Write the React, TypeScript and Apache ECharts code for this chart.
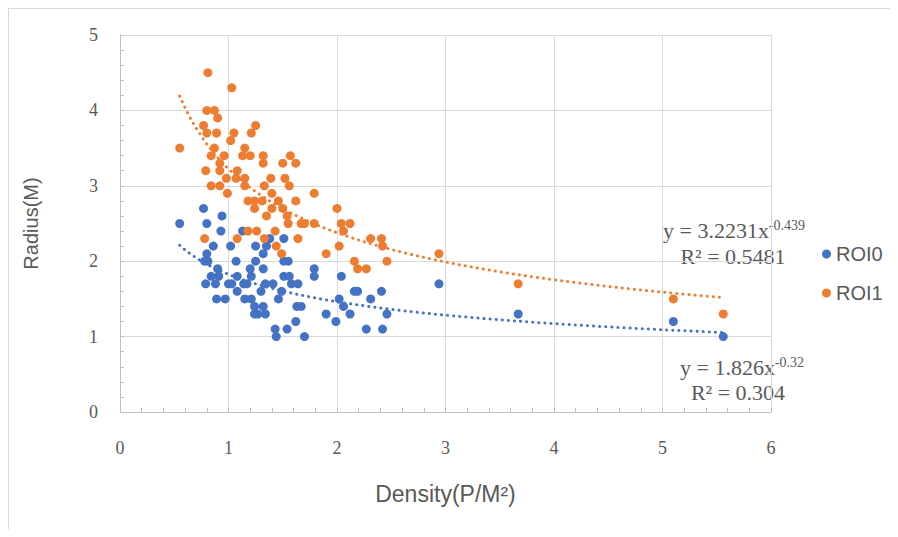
import React, { useEffect, useRef } from "react";
import * as echarts from "echarts";

// ROI0 (blue) points: [density, radius]
const roi0Points: [number, number][] = [
  [0.55, 2.5], [0.77, 2.7], [0.94, 2.6], [0.8, 2.5], [0.93, 2.4], [1.13, 2.4], [0.86, 2.2], [1.02, 2.2],
  [0.8, 2.1], [0.78, 2.0], [0.81, 2.0], [1.07, 2.0], [0.9, 1.9], [0.84, 1.8], [0.91, 1.8], [1.08, 1.8],
  [1.2, 1.9], [1.21, 1.8], [0.79, 1.7], [0.88, 1.7], [1.0, 1.7], [1.03, 1.7], [1.14, 1.7], [1.17, 1.7],
  [1.08, 1.6], [0.89, 1.5], [0.97, 1.5], [1.15, 1.5], [1.21, 1.5], [1.24, 1.4], [1.24, 1.3],
  [1.38, 2.3], [1.51, 2.3], [1.25, 2.2], [1.35, 2.2], [1.32, 2.1], [1.25, 2.0], [1.51, 2.0], [1.55, 2.0],
  [1.32, 1.9], [1.79, 1.9], [1.51, 1.8], [1.56, 1.8], [1.79, 1.8], [1.34, 1.7], [1.41, 1.7], [1.58, 1.7],
  [1.64, 1.7], [1.3, 1.6], [1.49, 1.6], [1.46, 1.5], [1.32, 1.4], [1.63, 1.4], [1.67, 1.4], [1.27, 1.3],
  [1.34, 1.3], [1.9, 1.3], [1.62, 1.2], [1.99, 1.2], [1.43, 1.1], [1.54, 1.1], [1.44, 1.0], [1.7, 1.0],
  [2.04, 1.8], [2.94, 1.7], [2.16, 1.6], [2.19, 1.6], [2.41, 1.6], [2.02, 1.5], [2.31, 1.5], [2.06, 1.4],
  [2.12, 1.3], [2.46, 1.3], [2.27, 1.1], [2.42, 1.1], [3.67, 1.3], [5.1, 1.2], [5.56, 1.0],
];

// ROI1 (orange) points: [density, radius]
const roi1Points: [number, number][] = [
  [0.55, 3.5], [0.81, 4.5], [1.03, 4.3], [0.8, 4.0], [0.87, 4.0], [0.9, 3.9], [0.77, 3.8], [0.8, 3.7],
  [0.89, 3.7], [1.05, 3.7], [1.02, 3.6], [1.21, 3.7], [1.25, 3.8], [0.87, 3.5], [1.15, 3.5], [0.84, 3.4],
  [0.96, 3.4], [1.13, 3.4], [1.2, 3.4], [0.92, 3.3], [0.79, 3.2], [0.92, 3.2], [1.08, 3.2], [0.98, 3.1],
  [1.07, 3.1], [1.15, 3.1], [0.84, 3.0], [0.92, 3.0], [1.15, 3.0], [0.99, 2.9], [1.18, 2.8],
  [1.32, 3.4], [1.32, 3.3], [1.57, 3.4], [1.5, 3.3], [1.62, 3.3], [1.39, 3.1], [1.52, 3.1], [1.56, 3.0],
  [1.33, 3.0], [1.4, 2.9], [1.79, 2.9], [1.24, 2.8], [1.31, 2.8], [1.46, 2.8], [1.62, 2.8], [2.0, 2.7],
  [1.4, 2.7], [1.5, 2.7], [1.24, 2.7], [1.35, 2.6], [1.54, 2.6], [1.55, 2.5], [1.67, 2.5], [1.7, 2.5],
  [1.79, 2.5], [2.04, 2.5], [2.12, 2.5], [2.06, 2.4], [1.18, 2.4], [1.26, 2.4], [1.43, 2.4], [0.78, 2.3],
  [1.08, 2.3], [1.33, 2.3], [1.64, 2.3], [1.44, 2.2], [2.02, 2.2], [1.49, 2.1], [1.9, 2.1], [2.16, 2.0],
  [2.19, 1.9], [2.27, 1.9], [2.31, 2.3], [2.41, 2.3], [2.42, 2.2], [2.46, 2.0], [2.94, 2.1], [3.67, 1.7],
  [5.1, 1.5], [5.56, 1.3],
];

// Power trendlines shown on the chart: y = a * x^b
const trend0 = { a: 1.826, b: -0.32 };
const trend1 = { a: 3.2231, b: -0.439 };

const xTicks = [0, 1, 2, 3, 4, 5, 6];
const yTicks = [0, 1, 2, 3, 4, 5];

const BLUE = "#4472C4";
const ORANGE = "#ED7D31";
const TEXT = "#595959";

function trendCurve(points: [number, number][], t: { a: number; b: number }): [number, number][] {
  const xs = points.map((p) => p[0]);
  const lo = Math.min(...xs);
  const hi = Math.max(...xs);
  const n = 120;
  const out: [number, number][] = [];
  for (let i = 0; i <= n; i++) {
    const x = lo + ((hi - lo) * i) / n;
    out.push([x, t.a * Math.pow(x, t.b)]);
  }
  return out;
}

export default function App() {
  const ref = useRef<HTMLDivElement>(null);

  useEffect(() => {
    if (!ref.current) return;
    const chart = echarts.init(ref.current, undefined, { renderer: "svg" });
    const serif = "'Liberation Serif', 'Times New Roman', serif";
    const sans = "'Liberation Sans', Arial, sans-serif";
    const axisCommon = {
      type: "value" as const,
      interval: 1,
      axisLine: { show: true, lineStyle: { color: "#bfbfbf", width: 1 } },
      axisTick: { show: true, inside: true, length: 4, lineStyle: { color: "#bfbfbf" } },
      minorTick: { show: true, splitNumber: 5, length: 4, lineStyle: { color: "#bfbfbf" } },
      splitLine: { show: true, lineStyle: { color: "#d9d9d9", width: 1 } },
      nameLocation: "middle" as const,
    };
    const supLine = (x: number, y: number, base: string, sup: string) => ({
      type: "text",
      x,
      y,
      style: {
        text: `{b|${base}}{s|${sup}}`,
        textAlign: "center",
        textVerticalAlign: "middle",
        fill: TEXT,
        rich: {
          b: { fontSize: 22, fontFamily: serif, fill: TEXT, lineHeight: 23 },
          s: { fontSize: 14, fontFamily: serif, fill: TEXT, verticalAlign: "top", lineHeight: 23, padding: [0, 0, 8, 0] },
        },
      },
    });
    const plainLine = (x: number, y: number, txt: string) => ({
      type: "text",
      x,
      y,
      style: {
        text: txt,
        textAlign: "center",
        textVerticalAlign: "middle",
        fill: TEXT,
        font: `22px ${serif}`,
      },
    });
    chart.setOption({
      animation: false,
      grid: { left: 111, top: 26, width: 651, height: 377 },
      legend: {
        data: ["ROI0", "ROI1"],
        orient: "vertical",
        left: 808,
        top: 230,
        icon: "circle",
        itemWidth: 9,
        itemHeight: 9,
        itemGap: 19,
        itemTextGap: 7,
        textStyle: { fontSize: 20, fontFamily: sans, color: TEXT },
      },
      xAxis: {
        ...axisCommon,
        min: xTicks[0],
        max: xTicks[xTicks.length - 1],
        name: "Density(P/M²)",
        nameGap: 70,
        nameTextStyle: { fontSize: 23, fontFamily: sans, color: TEXT },
        axisLabel: { margin: 27, fontSize: 18, fontFamily: serif, color: TEXT },
      },
      yAxis: {
        ...axisCommon,
        min: yTicks[0],
        max: yTicks[yTicks.length - 1],
        name: "Radius(M)",
        nameGap: 79,
        nameTextStyle: { fontSize: 20, fontFamily: sans, color: TEXT },
        axisLabel: { margin: 22, fontSize: 18, fontFamily: serif, color: TEXT },
      },
      series: [
        {
          name: "ROI0",
          type: "scatter",
          data: roi0Points,
          symbol: "circle",
          symbolSize: 9,
          itemStyle: { color: BLUE, opacity: 1 },
          z: 2,
        },
        {
          name: "ROI1",
          type: "scatter",
          data: roi1Points,
          symbol: "circle",
          symbolSize: 9,
          itemStyle: { color: ORANGE, opacity: 1 },
          z: 3,
        },
        {
          name: "trend0",
          type: "line",
          data: trendCurve(roi0Points, trend0),
          showSymbol: false,
          symbol: "none",
          lineStyle: { color: BLUE, width: 3, type: [0.1, 6], cap: "round" },
          z: 4,
          silent: true,
        },
        {
          name: "trend1",
          type: "line",
          data: trendCurve(roi1Points, trend1),
          showSymbol: false,
          symbol: "none",
          lineStyle: { color: ORANGE, width: 3, type: [0.1, 6], cap: "round" },
          z: 4,
          silent: true,
        },
      ],
      graphic: [
        supLine(725, 221, "y = 3.2231x", "-0.439"),
        plainLine(724, 247, "R² = 0.5481"),
        supLine(733, 358, "y = 1.826x", "-0.32"),
        plainLine(729, 383, "R² = 0.304"),
      ],
    });
    return () => chart.dispose();
  }, []);

  return (
    <div
      style={{
        position: "relative",
        width: 890,
        height: 521,
        boxSizing: "border-box",
        borderTop: "1px solid #d9d9d9",
        borderLeft: "1px solid #d9d9d9",
      }}
    >
      <div ref={ref} style={{ position: "absolute", left: 0, top: 0, width: 889, height: 520 }} />
    </div>
  );
}
